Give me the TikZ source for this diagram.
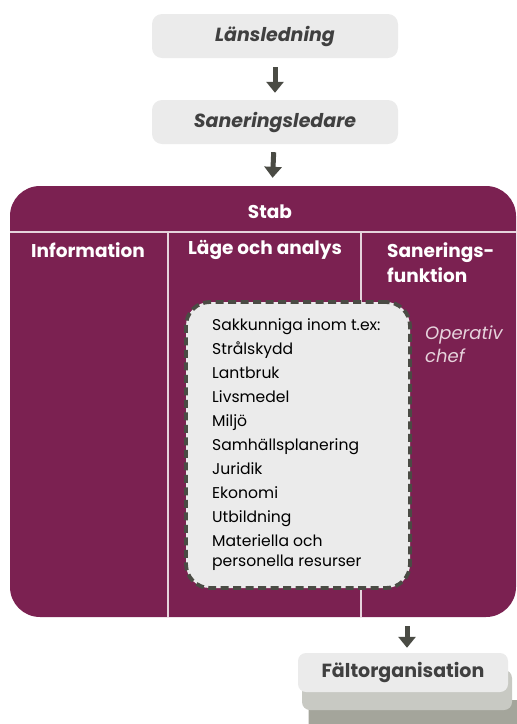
\documentclass[tikz,border=0pt]{standalone}
\usepackage{fontspec}
\setmainfont{Poppins}
\usetikzlibrary{arrows.meta}
\definecolor{stabpurple}{HTML}{7B2151}
\definecolor{boxgray}{HTML}{EBEBEB}
\definecolor{txtgray}{HTML}{404040}
\definecolor{arrowgray}{HTML}{4A4B44}
\definecolor{shadowA}{HTML}{C8C9C3}
\definecolor{shadowB}{HTML}{A4A59B}
\definecolor{sepline}{HTML}{E6D3DC}
\tikzset{
  topbox/.style={fill=boxgray, rounded corners=10pt, minimum width=246pt, minimum height=44pt,
    text=txtgray, font=\fontsize{19}{22}\selectfont\bfseries\itshape, inner sep=0pt},
  flowarrow/.style={draw=arrowgray, line width=5pt, -{Triangle[width=17pt,length=11pt]}},
  header/.style={text=white, font=\fontsize{18.5}{25}\selectfont\bfseries, inner sep=0pt},
  sep/.style={draw=sepline, line width=1.6pt},
}
\begin{document}
\begin{tikzpicture}[x=1pt,y=-1pt]
\useasboundingbox (0,0) rectangle (517,724);
% top boxes
\node[topbox] (lans) at (275,36) {Länsledning};
\node[topbox] (sanled) at (275,122) {Saneringsledare};
% stab box
\node[fill=stabpurple, rounded corners=30pt, minimum width=506pt, minimum height=431pt, inner sep=0pt] (stab) at (263,401.5) {};
\draw[flowarrow, shorten <=9pt, shorten >=7pt] (lans) -- (sanled);
\draw[flowarrow, shorten <=8pt, shorten >=8pt] (sanled) -- (stab);
% separators
\coordinate (hl) at (10,232);
\coordinate (hr) at (516,232);
\coordinate (v1t) at (168,232);
\coordinate (v1b) at (168,617);
\coordinate (v2t) at (361,232);
\coordinate (v2b) at (361,617);
\draw[sep] (hl) -- (hr);
\draw[sep] (v1t) -- (v1b);
\draw[sep] (v2t) -- (v2b);
% headers
\node[header] (stabt) at (270,212) {Stab};
\node[header] (info) at (88,250) {Information};
\node[header] (lage) at (265,250) {Läge och analys};
\node[header, anchor=north west, align=left] (sanf) at (387,242) {Sanerings-\\funktion};
% dashed box
\node[draw=arrowgray, line width=3.8pt, dash pattern=on 8pt off 4.5pt, fill=boxgray, rounded corners=24pt,
  minimum width=224pt, minimum height=286pt, inner sep=0pt] (sakk) at (298,445) {};
\node[anchor=north west, align=left, inner sep=0pt, text=black,
  font=\fontsize{15.6}{24}\selectfont] (list) at (212,318)
  {Sakkunniga inom t.ex:\\Strålskydd\\Lantbruk\\Livsmedel\\Miljö\\Samhällsplanering\\Juridik\\Ekonomi\\Utbildning\\Materiella och\\[-4pt]personella resurser};
% operativ chef
\node[anchor=north west, align=left, inner sep=0pt, text=sepline,
  font=\fontsize{18}{23}\selectfont\itshape] (opchef) at (425,326) {Operativ\\chef};
% faltorganisation
\node[fill=shadowB, rounded corners=6pt, minimum width=215pt, minimum height=40pt, inner sep=0pt] (sh2) at (416,720) {};
\node[fill=shadowA, rounded corners=8pt, minimum width=210pt, minimum height=40pt, inner sep=0pt] (sh1) at (407,690) {};
\node[fill=boxgray, rounded corners=8pt, minimum width=210pt, minimum height=39pt, inner sep=0pt,
  text=txtgray, font=\fontsize{19}{22}\selectfont\bfseries] (falt) at (403,672.5) {Fältorganisation};
\coordinate (a3s) at (407,617);
\draw[flowarrow, shorten <=9pt, shorten >=5pt] (a3s) -- (falt.north -| a3s);
\end{tikzpicture}
\end{document}
